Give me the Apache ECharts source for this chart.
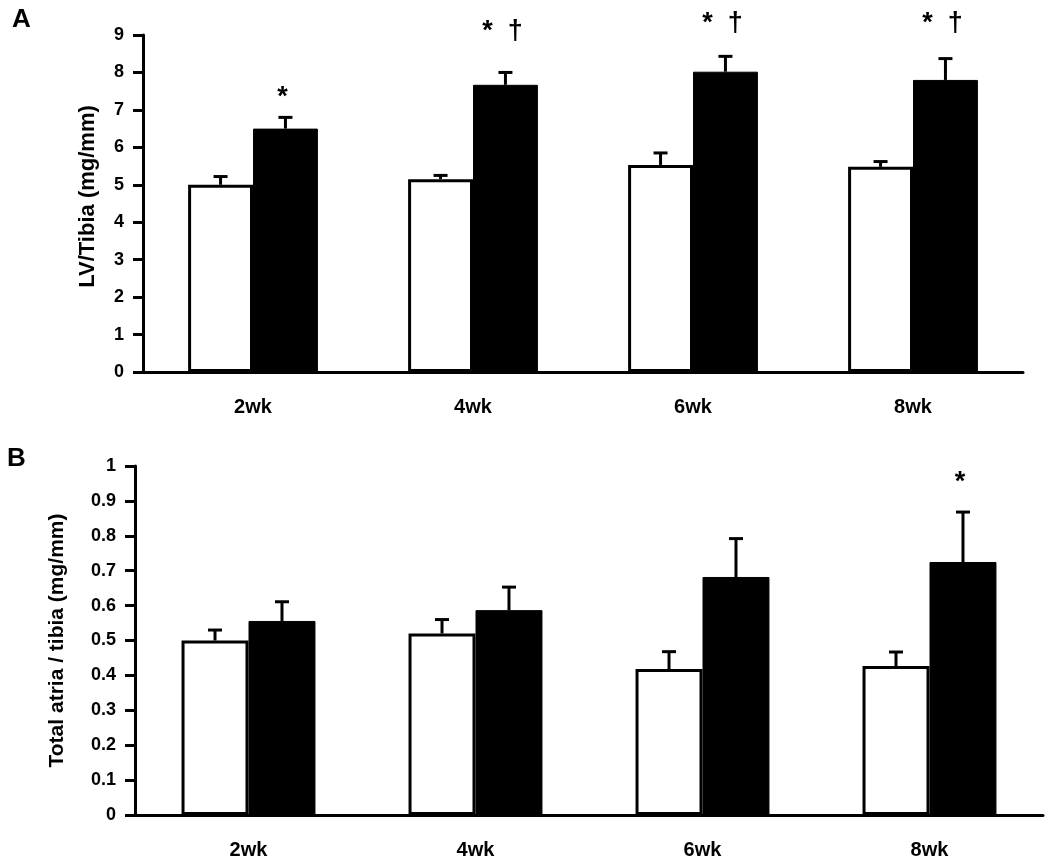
<!DOCTYPE html>
<html>
<head>
<meta charset="utf-8">
<script src="https://cdn.jsdelivr.net/npm/echarts@6/dist/echarts.min.js"></script>
<style>html,body{margin:0;padding:0;background:#fff}#c{width:1050px;height:864px}</style>
</head>
<body>
<div id="c"></div>
<script>
const categories = ['2wk', '4wk', '6wk', '8wk'];
// Panel A: LV/Tibia
const aWhite = [5.0, 5.15, 5.53, 5.48];
const aWhiteErr = [0.22, 0.1, 0.32, 0.14];
const aBlack = [6.5, 7.67, 8.02, 7.8];
const aBlackErr = [0.3, 0.33, 0.41, 0.57];
const aAnnot = ['*', '*  †', '*  †', '*  †'];
const aAnnotY = [7.34, 9.09, 9.3, 9.3];
const aTicks = [0, 9, 1];
// Panel B: Total atria / tibia
const bWhite = [0.50, 0.52, 0.418, 0.427];
const bWhiteErr = [0.03, 0.04, 0.05, 0.04];
const bBlack = [0.556, 0.587, 0.682, 0.725];
const bBlackErr = [0.055, 0.066, 0.11, 0.143];
const bAnnot = ['', '', '', '*'];
const bAnnotY = [0, 0, 0, 0.952];
const bTicks = [0, 1, 0.1];

const BAR_FRAC = 0.295;
const FONT = 'Liberation Sans, Arial, sans-serif';

function errSeries(gi, means, errs, sign) {
  return {
    type: 'custom', xAxisIndex: gi, yAxisIndex: gi, z: 5, silent: true,
    data: means.map((m, i) => [i, m, m + errs[i]]),
    renderItem: function (params, api) {
      const bw = api.size([1, 0])[0] * BAR_FRAC;
      const b = api.coord([api.value(0), api.value(1)]);
      const t = api.coord([api.value(0), api.value(2)]);
      const x = b[0] + sign * bw / 2;
      const st = { stroke: '#000', lineWidth: 3 };
      return { type: 'group', children: [
        { type: 'line', shape: { x1: x, y1: b[1], x2: x, y2: t[1] }, style: st },
        { type: 'line', shape: { x1: x - 7, y1: t[1], x2: x + 7, y2: t[1] }, style: st }
      ]};
    }
  };
}
function annotSeries(gi, texts, ys) {
  return {
    type: 'custom', xAxisIndex: gi, yAxisIndex: gi, z: 6, silent: true, clip: false,
    data: texts.map((t, i) => [i, ys[i]]),
    renderItem: function (params, api) {
      const txt = texts[params.dataIndex];
      if (!txt) return null;
      const bw = api.size([1, 0])[0] * BAR_FRAC;
      const p = api.coord([api.value(0), api.value(1)]);
      return { type: 'text', style: { x: p[0] + bw / 2 - 3, y: p[1], text: txt, fill: '#000',
        font: 'bold 27px ' + FONT, align: 'center', verticalAlign: 'middle' } };
    }
  };
}
function xAx(gi, margin) {
  return { type: 'category', gridIndex: gi, data: categories,
    axisLine: { lineStyle: { color: '#000', width: 3 } },
    axisTick: { length: 8, lineStyle: { color: '#000', width: 3 } },
    axisLabel: { color: '#000', fontWeight: 'bold', fontSize: 20, fontFamily: FONT, margin: margin },
    splitLine: { show: false } };
}
function yAx(gi, t, name, gap, nameSize, namePad, fmt) {
  return { type: 'value', gridIndex: gi, min: t[0], max: t[1], interval: t[2],
    name: name, nameLocation: 'middle', nameGap: gap,
    nameTextStyle: { color: '#000', fontWeight: 'bold', fontSize: nameSize, fontFamily: FONT, padding: namePad },
    axisLine: { show: true, lineStyle: { color: '#000', width: 3 } },
    axisTick: { show: true, length: 10, lineStyle: { color: '#000', width: 3 } },
    axisLabel: { color: '#000', fontWeight: 'bold', fontSize: 18, fontFamily: FONT, margin: 19, formatter: fmt },
    splitLine: { show: false } };
}
const barBase = { type: 'bar', barWidth: (BAR_FRAC * 100) + '%', barGap: '0%', silent: true };

const chart = echarts.init(document.getElementById('c'));
chart.setOption({
  animation: false,
  backgroundColor: '#fff',
  graphic: [
    { type: 'text', left: 12, top: 7, style: { text: 'A', font: 'bold 26px ' + FONT, fill: '#000' } },
    { type: 'text', left: 7, top: 446, style: { text: 'B', font: 'bold 26px ' + FONT, fill: '#000' } }
  ],
  grid: [
    { left: 143, right: 27, top: 35, bottom: 492 },
    { left: 135, right: 7, top: 466, bottom: 49 }
  ],
  xAxis: [xAx(0, 25), xAx(1, 25)],
  yAxis: [
    yAx(0, aTicks, 'LV/Tibia (mg/mm)', 44, 22, [0, 0, 0, 14], v => String(v)),
    yAx(1, bTicks, 'Total atria / tibia (mg/mm)', 67, 21, 0, v => String(+v.toFixed(1)))
  ],
  series: [
    Object.assign({}, barBase, { xAxisIndex: 0, yAxisIndex: 0, data: aWhite,
      itemStyle: { color: '#fff', borderColor: '#000', borderWidth: 3 } }),
    Object.assign({}, barBase, { xAxisIndex: 0, yAxisIndex: 0, data: aBlack,
      itemStyle: { color: '#000', borderColor: '#000', borderWidth: 1 } }),
    errSeries(0, aWhite, aWhiteErr, -1),
    errSeries(0, aBlack, aBlackErr, 1),
    annotSeries(0, aAnnot, aAnnotY),
    Object.assign({}, barBase, { xAxisIndex: 1, yAxisIndex: 1, data: bWhite,
      itemStyle: { color: '#fff', borderColor: '#000', borderWidth: 3 } }),
    Object.assign({}, barBase, { xAxisIndex: 1, yAxisIndex: 1, data: bBlack,
      itemStyle: { color: '#000', borderColor: '#000', borderWidth: 1 } }),
    errSeries(1, bWhite, bWhiteErr, -1),
    errSeries(1, bBlack, bBlackErr, 1),
    annotSeries(1, bAnnot, bAnnotY)
  ]
});
</script>
</body>
</html>
